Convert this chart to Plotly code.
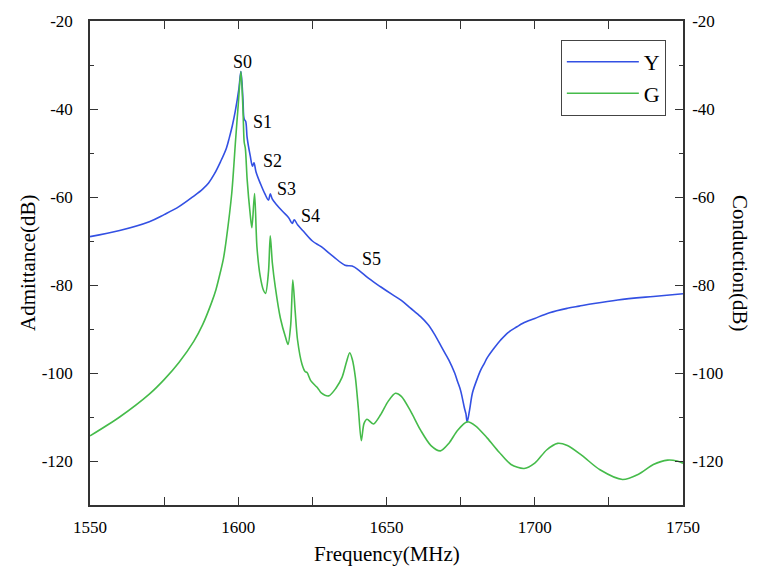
import plotly.graph_objects as go

# ---- data ----
freq_Y = [1550, 1560, 1570, 1575, 1580, 1585, 1588, 1590, 1592, 1594, 1596, 1597, 1598, 1599,
          1600.2, 1600.9,
          1601.6, 1602.0, 1602.5, 1603, 1604, 1604.8, 1605.3, 1606, 1607.5, 1609,
          1610.2, 1610.8, 1611.5, 1613, 1615, 1617, 1618.2, 1618.9, 1620, 1622,
          1625, 1628, 1632, 1636, 1638.4, 1640.6, 1644, 1648, 1652, 1655, 1658,
          1661.5, 1664, 1666, 1668.5, 1670, 1671, 1673, 1674, 1675, 1676.3, 1676.8, 1677.2,
          1678.0, 1679, 1680.5, 1681.8, 1683, 1684, 1686, 1688.5, 1691, 1694, 1696, 1700,
          1705, 1711, 1715, 1720, 1728, 1740, 1750]
Y_dB = [-69.0, -67.6, -65.6, -64.0, -62.2, -59.8, -58.2, -56.8, -54.7, -52.0, -48.9, -46.5, -43.8, -40.5,
        -35.5, -31.5,
        -38.0, -42.3, -42.8, -46.5, -50.5, -53.0, -52.2, -54.3, -57.0, -59.3,
        -60.7, -59.3, -60.5, -61.8, -63.3, -64.7, -66.0, -65.2, -66.3, -67.8,
        -70.0, -71.3, -73.5, -75.5, -75.7, -76.6, -78.5, -80.4, -82.2, -83.5, -85.2,
        -87.2, -89.0, -91.0, -94.0, -95.8, -97.0, -100.0, -102.0, -104.0, -108.0, -109.3, -111.1,
        -108.5, -104.5, -101.5, -99.3, -97.8, -96.5, -94.6, -92.5, -90.8, -89.5, -88.7, -87.6,
        -86.3, -85.3, -84.8, -84.2, -83.4, -82.6, -82.0]

freq_G = [1550, 1560, 1570, 1575, 1580, 1585, 1588, 1591, 1592.5, 1594, 1595, 1596, 1597.8,
          1598.5, 1599,
          1600, 1600.9, 1601.6, 1602.0, 1602.4, 1603, 1604, 1604.6, 1605.5, 1606.3,
          1607.4, 1608.5, 1609.2, 1610.2, 1610.8, 1611.5, 1612.5, 1614.2, 1616,
          1616.8, 1617.7, 1618.4, 1619.2, 1620, 1621.5, 1622.6, 1623.2, 1624.5,
          1626.5, 1627.1, 1628, 1630.5, 1633, 1635, 1636.5, 1637.6, 1638.5, 1639.5,
          1640.5, 1641.5, 1642.4, 1643.4, 1645.6, 1648, 1650.5, 1653, 1655, 1658,
          1661.5, 1665, 1668.2, 1671, 1674, 1677.2, 1680, 1684, 1688, 1692, 1696.4,
          1700, 1704, 1707.7, 1711, 1716, 1722, 1729.6, 1735, 1740, 1744.8, 1748, 1750]
G_dB = [-114.3, -110.0, -104.8, -101.5, -97.6, -92.8, -89.0, -84.0, -81.0, -77.0, -74.0, -69.5, -59.2,
        -53.0, -48.0,
        -39.0, -31.5, -40.2, -47.5, -49.0, -56.0, -63.7, -67.0, -59.2, -71.3,
        -78.0, -81.2, -81.9, -77.0, -68.8, -75.0, -80.5, -87.5, -92.0,
        -93.5, -89.0, -78.9, -86.0, -92.5, -98.0, -99.7, -99.9, -101.8,
        -103.2, -103.7, -104.5, -105.2, -103.4, -101.0, -97.5, -95.4, -97.0, -101.0,
        -108.0, -115.4, -111.5, -110.5, -111.6, -109.5, -106.5, -104.6, -105.3, -108.5,
        -113.0, -116.5, -117.7, -116.0, -113.0, -111.1, -112.0, -114.8, -118.0, -120.8, -121.7,
        -120.5, -117.5, -116.0, -116.5, -118.8, -122.0, -124.2, -123.0, -120.8, -119.8, -120.0, -120.5]

mode_labels = ["S0", "S1", "S2", "S3", "S4", "S5"]
mode_label_freq = [1601.6, 1608.3, 1611.7, 1616.4, 1624.5, 1645.1]
mode_label_dB = [-29.3, -43.0, -51.8, -58.2, -64.3, -74.1]

x_ticks = [1550, 1600, 1650, 1700, 1750]
y_ticks = [-20, -40, -60, -80, -100, -120]
y_tick_text = ["-20", "-40", "-60", "-80", "-100", "-120"]

FONT = "Liberation Serif, Times New Roman, serif"
AXC = "#333333"

fig = go.Figure()
fig.add_trace(go.Scatter(x=freq_Y, y=Y_dB, name="Y", mode="lines",
                         line=dict(color="#3350e3", width=1.6, shape="spline", smoothing=1.0)))
fig.add_trace(go.Scatter(x=freq_G, y=G_dB, name="G", mode="lines", yaxis="y2",
                         line=dict(color="#45bb4a", width=1.6, shape="spline", smoothing=0.8)))

for lab, fx, fy in zip(mode_labels, mode_label_freq, mode_label_dB):
    fig.add_annotation(x=fx, y=fy, xref="x", yref="y", text=lab, showarrow=False,
                       xanchor="center", yanchor="middle",
                       font=dict(family=FONT, size=18, color="black"))

axis_common = dict(showgrid=False, zeroline=False, showline=True, linecolor=AXC, linewidth=1.5,
                   ticks="inside", ticklen=8, tickwidth=1.3, tickcolor=AXC,
                   tickfont=dict(family=FONT, size=17, color="black"))
minor_common = dict(ticks="inside", ticklen=4, tickcolor=AXC, tickwidth=1.3)

fig.update_layout(
    width=758, height=576,
    margin=dict(l=90, r=75, t=21, b=71),
    plot_bgcolor="white", paper_bgcolor="white",
    showlegend=True,
    legend=dict(x=0.794, y=0.961, xanchor="left", yanchor="top",
                bordercolor="#444444", borderwidth=1, bgcolor="white",
                font=dict(family=FONT, size=22, color="black"),
                itemwidth=72, tracegroupgap=0),
    xaxis=dict(range=[1550, 1750], tickvals=x_ticks, mirror="allticks",
               minor=dict(dtick=25, **minor_common),
               ticklabelstandoff=6, **axis_common),
    yaxis=dict(range=[-130, -20], tickvals=y_ticks, ticktext=y_tick_text,
               minor=dict(dtick=10, **minor_common),
               ticklabelstandoff=12, **axis_common),
    yaxis2=dict(range=[-130, -20], tickvals=y_ticks, ticktext=y_tick_text,
                overlaying="y", side="right",
                minor=dict(dtick=10, **minor_common),
                ticklabelstandoff=4, **axis_common),
)

fig.add_annotation(x=0.0, y=0.5, xref="paper", yref="paper", xshift=-62, text="Admittance(dB)",
                   xanchor="center", yanchor="middle",
                   textangle=-90, showarrow=False, font=dict(family=FONT, size=21, color="black"))
fig.add_annotation(x=1.0, y=0.5, xref="paper", yref="paper", xshift=57, text="Conduction(dB)",
                   xanchor="center", yanchor="middle",
                   textangle=90, showarrow=False, font=dict(family=FONT, size=21, color="black"))
fig.add_annotation(x=0.5, y=0.0, xref="paper", yref="paper", yshift=-49, text="Frequency(MHz)",
                   xanchor="center", yanchor="middle",
                   showarrow=False, font=dict(family=FONT, size=21, color="black"))

fig.write_html("out.html")
